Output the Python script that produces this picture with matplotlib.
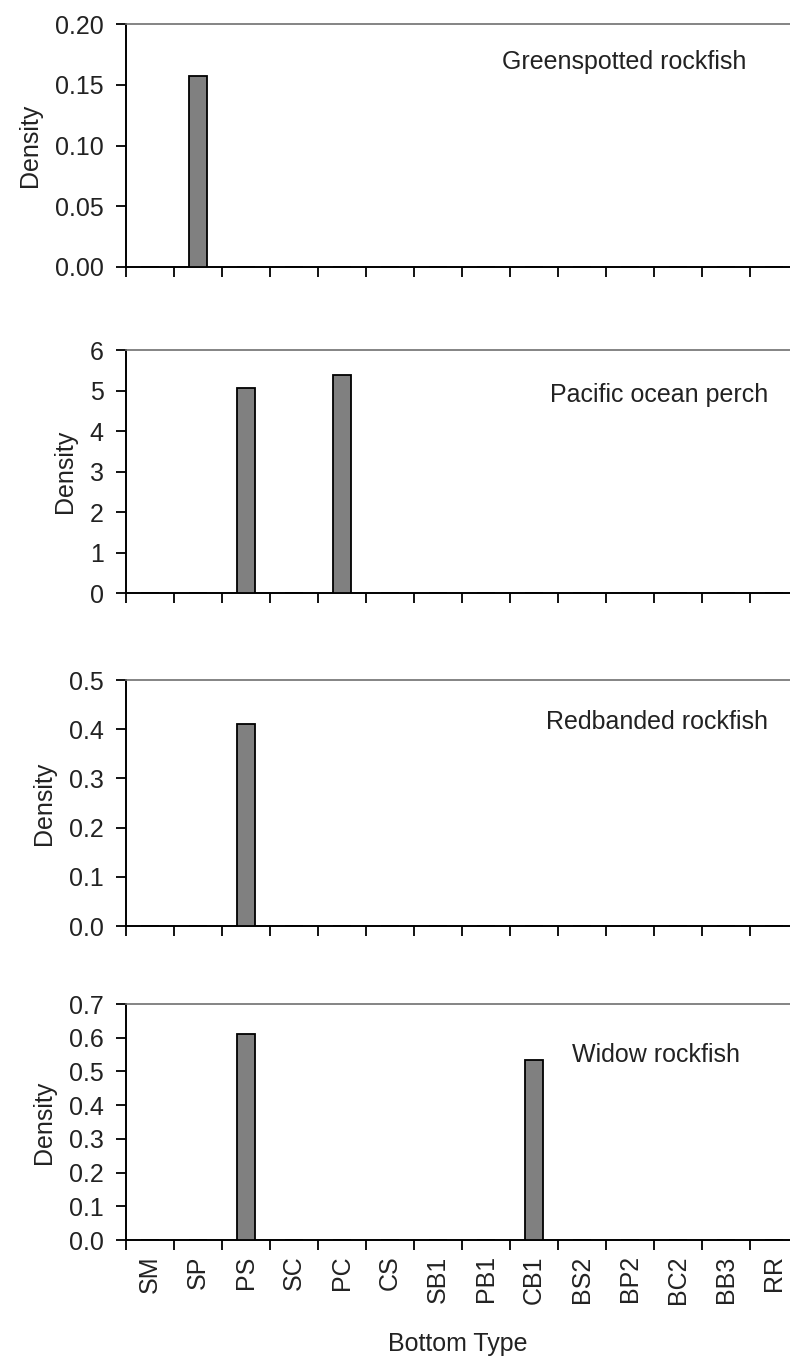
import matplotlib
matplotlib.use("Agg")
import matplotlib.pyplot as plt
from matplotlib.ticker import FixedLocator, FormatStrFormatter

plt.rcParams['font.family'] = ['Liberation Sans', 'DejaVu Sans']

bottom_types = ["SM", "SP", "PS", "SC", "PC", "CS", "SB1", "PB1",
                "CB1", "BS2", "BP2", "BC2", "BB3", "RR"]

greenspotted = [0, 0.157, 0, 0, 0, 0, 0, 0, 0, 0, 0, 0, 0, 0]
pacific_perch = [0, 0, 5.05, 0, 5.38, 0, 0, 0, 0, 0, 0, 0, 0, 0]
redbanded = [0, 0, 0.41, 0, 0, 0, 0, 0, 0, 0, 0, 0, 0, 0]
widow = [0, 0, 0.61, 0, 0, 0, 0, 0, 0.535, 0, 0, 0, 0, 0]

species = ["Greenspotted rockfish", "Pacific ocean perch",
           "Redbanded rockfish", "Widow rockfish"]
series = [greenspotted, pacific_perch, redbanded, widow]
y_ticks = [
    [0.00, 0.05, 0.10, 0.15, 0.20],
    [0, 1, 2, 3, 4, 5, 6],
    [0.0, 0.1, 0.2, 0.3, 0.4, 0.5],
    [0.0, 0.1, 0.2, 0.3, 0.4, 0.5, 0.6, 0.7],
]
y_formats = ["%.2f", "%d", "%.1f", "%.1f"]

W, H = 790, 1359
FS = 18
TXT = "#222222"
fig = plt.figure(figsize=(W / 100, H / 100), dpi=100)

# panel boxes in pixels: (top, bottom)
panel_px = [(24, 267), (350, 593), (680, 926), (1004, 1240)]
left_px = 126
cat_px = 48.0
# species label anchors (right edge, vertical centre) in axes fraction
label_pos = [(0.935, 0.844), (0.967, 0.815), (0.967, 0.829), (0.925, 0.784)]

x = list(range(len(bottom_types)))
for i, (vals, name, yt, fmt, (top, bot), lp) in enumerate(
        zip(series, species, y_ticks, y_formats, panel_px, label_pos)):
    ax = fig.add_axes([left_px / W, 1 - bot / H, (W - left_px) / W, (bot - top) / H])
    ax.bar(x, vals, width=0.39, color="#808080", edgecolor="black",
           linewidth=1.3, zorder=3)
    ax.set_xlim(-0.5, -0.5 + (W - left_px) / cat_px)
    ax.set_ylim(yt[0], yt[-1])
    ax.yaxis.set_major_locator(FixedLocator(yt))
    ax.yaxis.set_major_formatter(FormatStrFormatter(fmt))
    ax.xaxis.set_major_locator(FixedLocator([k - 0.5 for k in range(len(bottom_types) + 1)]))
    ax.tick_params(axis="x", which="major", direction="out", length=7, width=1.3,
                   labelbottom=False)
    ax.tick_params(axis="y", direction="out", length=7, width=1.3,
                   labelsize=FS, labelcolor=TXT, pad=9)
    ax.spines["right"].set_visible(False)
    ax.spines["left"].set_linewidth(1.4)
    ax.spines["bottom"].set_linewidth(1.4)
    ax.spines["top"].set_color("#707070")
    ax.spines["top"].set_linewidth(1.2)
    ax.set_ylabel("Density", fontsize=FS, labelpad=9, color=TXT)
    ax.text(lp[0], lp[1], name, transform=ax.transAxes, fontsize=FS,
            ha="right", va="center", color=TXT)
    if i == len(series) - 1:
        ax.xaxis.set_minor_locator(FixedLocator(x))
        ax.set_xticklabels(bottom_types, minor=True, rotation=90, fontsize=FS)
        ax.tick_params(axis="x", which="minor", length=0, pad=11,
                       labelcolor=TXT)
        ax.set_xlabel("Bottom Type", fontsize=FS, labelpad=20, color=TXT)
    else:
        ax.xaxis.set_minor_locator(FixedLocator([]))

fig.savefig("out.png", dpi=100)
